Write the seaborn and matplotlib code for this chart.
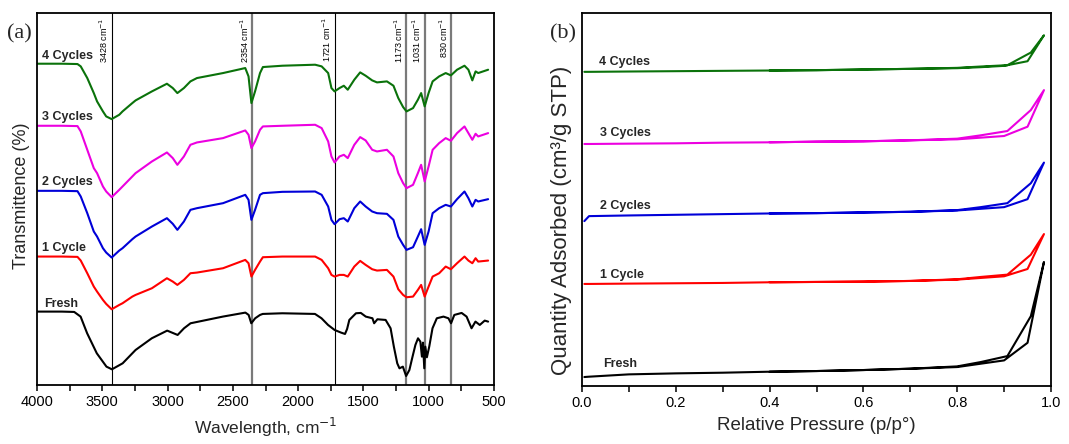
import numpy as np
import pandas as pd
import matplotlib
matplotlib.use("Agg")
import matplotlib.pyplot as plt
import seaborn as sns
from matplotlib.ticker import MultipleLocator

# ---------------- FTIR data (panel a) ----------------
wn_cycles = [4000, 3810, 3690, 3665, 3615, 3565, 3540, 3495, 3470, 3428,
             3370, 3345, 3270, 3245, 3120, 3005, 2960, 2925, 2875, 2825,
             2775, 2575, 2405, 2380, 2358, 2330, 2292, 2270, 2120, 1870,
             1820, 1770, 1745, 1721, 1683, 1650, 1620, 1570, 1525, 1483,
             1433, 1396, 1320, 1270, 1233, 1196, 1170, 1120, 1083, 1058,
             1031, 1001, 970, 920, 870, 830, 783, 726, 696, 666,
             641, 621, 545]

t_4cycles = [96.3, 96.3, 96.2, 95.5, 92.0, 87.5, 85.0, 82.0, 80.5, 79.7,
             81.0, 82.0, 84.5, 85.3, 88.0, 90.3, 89.0, 87.5, 89.0, 91.0,
             92.0, 93.5, 95.0, 92.5, 84.5, 88.0, 93.5, 95.3, 95.7, 96.0,
             95.5, 93.5, 89.0, 88.0, 89.0, 89.7, 88.5, 91.5, 93.7, 92.7,
             91.3, 90.7, 91.0, 89.7, 86.0, 83.3, 82.0, 83.0, 85.5, 87.5,
             83.5, 87.5, 91.0, 92.5, 93.5, 92.8, 94.5, 95.7, 94.5, 91.3,
             94.0, 93.5, 94.5]

t_3cycles = [77.7, 77.7, 77.6, 76.0, 70.5, 65.0, 63.5, 59.5, 58.0, 56.3,
             58.5, 59.5, 62.5, 63.5, 67.0, 69.7, 68.0, 66.0, 68.5, 72.0,
             72.7, 74.0, 76.3, 75.0, 71.0, 73.0, 76.5, 77.5, 77.7, 78.0,
             77.0, 73.0, 68.5, 66.7, 68.5, 69.0, 68.0, 72.0, 74.3, 73.3,
             70.5, 70.0, 70.5, 68.5, 63.5, 60.5, 59.0, 60.0, 63.5, 66.0,
             61.0, 65.5, 70.5, 72.5, 74.0, 73.2, 75.5, 77.5, 75.5, 73.5,
             75.3, 74.5, 75.5]

t_2cycles = [58.2, 58.2, 58.1, 56.5, 51.5, 46.0, 44.5, 41.0, 39.7, 38.2,
             40.3, 41.0, 43.7, 44.5, 47.5, 50.0, 48.3, 46.5, 49.0, 52.5,
             53.0, 54.5, 57.0, 55.5, 49.5, 52.5, 57.0, 57.5, 57.9, 58.0,
             57.0, 53.5, 49.5, 48.2, 49.7, 50.0, 49.0, 53.0, 55.0, 53.5,
             52.0, 51.5, 51.3, 49.5, 44.5, 42.0, 40.5, 41.3, 44.5, 46.7,
             42.0, 46.0, 51.5, 53.0, 54.0, 53.5, 55.7, 58.0, 56.0, 53.5,
             55.5, 55.0, 55.7]

t_1cycle = [38.5, 38.5, 38.4, 37.3, 33.5, 29.5, 28.0, 25.5, 24.3, 22.7,
            24.0, 24.5, 26.5, 27.0, 29.0, 32.0, 31.0, 30.0, 31.5, 33.5,
            33.7, 35.0, 37.5, 36.5, 32.5, 34.5, 37.0, 38.3, 38.5, 38.5,
            37.5, 35.0, 33.0, 32.5, 33.0, 33.0, 32.5, 35.5, 37.2, 36.0,
            34.7, 34.3, 34.5, 32.5, 28.7, 27.0, 26.3, 26.5, 28.5, 30.0,
            26.5, 29.5, 32.5, 33.5, 35.5, 34.7, 36.5, 38.5, 37.3, 36.5,
            38.0, 37.0, 37.3]

wn_fresh = [4000, 3810, 3715, 3666, 3616, 3542, 3468, 3426, 3344, 3245,
            3121, 3003, 2923, 2874, 2824, 2577, 2404, 2379, 2359, 2329,
            2292, 2271, 2121, 1871, 1821, 1771, 1721, 1671, 1641, 1625,
            1608, 1557, 1520, 1482, 1431, 1418, 1393, 1330, 1292, 1267,
            1241, 1224, 1198, 1173, 1148, 1127, 1102, 1082, 1064, 1052,
            1044, 1034, 1026, 1014, 996, 971, 938, 887, 849, 829,
            804, 748, 710, 672, 642, 609, 571, 545]

t_fresh = [22.0, 22.0, 21.9, 20.5, 15.5, 9.5, 5.5, 4.7, 6.5, 10.5,
           14.0, 16.3, 15.0, 17.0, 18.5, 20.5, 21.7, 21.0, 18.5, 20.0,
           21.0, 21.3, 21.5, 21.3, 20.0, 18.0, 16.5, 15.7, 15.3, 16.8,
           19.5, 21.5, 21.6, 20.5, 20.0, 18.5, 19.7, 19.5, 17.0, 11.5,
           6.5, 5.0, 5.5, 2.7, 4.5, 8.0, 12.0, 14.0, 13.0, 8.5,
           12.7, 5.0, 11.5, 8.3, 11.5, 17.0, 20.0, 20.5, 20.0, 18.5,
           21.0, 21.6, 20.5, 17.0, 19.0, 18.0, 19.3, 19.0]

peak_positions = [3428, 2354, 1721, 1173, 1031, 830]
peak_labels = ["3428 cm$^{-1}$", "2354 cm$^{-1}$", "1721 cm$^{-1}$",
               "1173 cm$^{-1}$", "1031 cm$^{-1}$", "830 cm$^{-1}$"]

# ---------------- N2 isotherm data (panel b) ----------------
p_ads = [0.005, 0.015, 0.1, 0.2, 0.3, 0.4, 0.5, 0.6, 0.7, 0.8, 0.85, 0.9, 0.95, 0.985]
p_des = [0.957, 0.907, 0.85, 0.8, 0.7, 0.6, 0.5, 0.4]

q_ads_4 = [94.5, 94.5, 94.6, 94.7, 94.8, 94.9, 95.0, 95.2, 95.4, 95.6, 95.9, 96.3, 97.7, 105.5]
q_des_4 = [100.3, 96.5, 96.1, 95.7, 95.4, 95.2, 95.0, 94.9]
q_ads_3 = [72.8, 72.8, 72.9, 73.0, 73.2, 73.3, 73.5, 73.6, 73.9, 74.2, 74.7, 75.2, 78.0, 89.0]
q_des_3 = [83.0, 76.7, 75.4, 74.4, 73.9, 73.6, 73.5, 73.3]
q_ads_2 = [49.6, 51.1, 51.3, 51.5, 51.7, 51.9, 52.0, 52.2, 52.4, 52.8, 53.3, 53.8, 56.2, 67.2]
q_des_2 = [61.0, 55.0, 53.8, 52.9, 52.4, 52.2, 52.0, 51.9]
q_ads_1 = [30.7, 30.7, 30.8, 30.9, 31.0, 31.2, 31.3, 31.4, 31.6, 32.0, 32.5, 33.0, 35.2, 45.7]
q_des_1 = [39.5, 33.5, 32.8, 32.1, 31.6, 31.4, 31.3, 31.2]
q_ads_f = [2.7, 2.8, 3.5, 3.8, 4.0, 4.3, 4.5, 4.8, 5.2, 5.7, 6.7, 7.7, 13.0, 37.3]
q_des_f = [21.0, 9.0, 7.2, 5.9, 5.2, 4.8, 4.5, 4.3]

samples = ["Fresh", "1 Cycle", "2 Cycles", "3 Cycles", "4 Cycles"]
colors = {"Fresh": "#000000", "1 Cycle": "#ff0000", "2 Cycles": "#0000d8",
          "3 Cycles": "#ec00e0", "4 Cycles": "#0a720a"}

# ---------------- build tables ----------------
ftir_series = {
    "Fresh": (wn_fresh, t_fresh),
    "1 Cycle": (wn_cycles, t_1cycle),
    "2 Cycles": (wn_cycles, t_2cycles),
    "3 Cycles": (wn_cycles, t_3cycles),
    "4 Cycles": (wn_cycles, t_4cycles),
}
ftir = pd.concat([pd.DataFrame({"wn": w, "T": t, "sample": s})
                  for s, (w, t) in ftir_series.items()], ignore_index=True)

iso_series = {
    "Fresh": (q_ads_f, q_des_f),
    "1 Cycle": (q_ads_1, q_des_1),
    "2 Cycles": (q_ads_2, q_des_2),
    "3 Cycles": (q_ads_3, q_des_3),
    "4 Cycles": (q_ads_4, q_des_4),
}
iso = pd.concat([pd.DataFrame({"p": list(p_ads) + list(p_des),
                               "Q": list(a) + list(d), "sample": s})
                 for s, (a, d) in iso_series.items()], ignore_index=True)

# ---------------- style ----------------
sns.set_theme(style="ticks")
plt.rcParams["font.family"] = ["Liberation Sans", "DejaVu Sans"]
plt.rcParams["axes.linewidth"] = 1.3
plt.rcParams["xtick.major.width"] = 1.1
plt.rcParams["xtick.minor.width"] = 1.1
plt.rcParams["xtick.major.size"] = 4
plt.rcParams["xtick.minor.size"] = 4
plt.rcParams["xtick.direction"] = "out"
plt.rcParams["xtick.color"] = "black"
plt.rcParams["axes.edgecolor"] = "black"

fig = plt.figure(figsize=(10.69, 4.44), dpi=100)
ax1 = fig.add_axes([37 / 1069, 1 - 385 / 444, (494 - 37) / 1069, (385 - 13) / 444])
ax2 = fig.add_axes([582 / 1069, 1 - 386 / 444, (1051 - 582) / 1069, (386 - 13) / 444])

# ---------------- panel a ----------------
sns.lineplot(data=ftir, x="wn", y="T", hue="sample", palette=colors,
             sort=False, estimator=None, legend=False, linewidth=1.5, ax=ax1)
ax1.set_xlim(4000, 500)
ax1.set_ylim(0, 111.5)
for w, lab in zip(peak_positions, peak_labels):
    thick = w in (2354, 1173, 1031, 830)
    ax1.axvline(w, color="#7a7a7a" if thick else "black",
                lw=1.6 if thick else 0.8, zorder=0.5)
    ax1.annotate(lab, xy=(w, 111.5), xytext=(-1, -3), textcoords="offset points",
                 rotation=90, ha="right", va="top", fontsize=6.5, color="black")

label_pos_a = {"4 Cycles": (3960, 98.7), "3 Cycles": (3960, 80.3),
               "2 Cycles": (3960, 60.8), "1 Cycle": (3960, 41.0),
               "Fresh": (3945, 24.2)}
for s, (x, y) in label_pos_a.items():
    ax1.text(x, y, s, fontsize=9, fontweight="bold", ha="left", va="center")

ax1.xaxis.set_major_locator(MultipleLocator(500))
ax1.xaxis.set_minor_locator(MultipleLocator(250))
ax1.set_yticks([])
ax1.tick_params(axis="x", labelsize=10.5, pad=3)
ax1.set_xlabel("Wavelength, cm$^{-1}$", fontsize=12.5, labelpad=5)
ax1.set_ylabel("Transmittence (%)", fontsize=13)
ax1.yaxis.set_label_coords(-0.015, 0.51)
for sp in ax1.spines.values():
    sp.set_visible(True)

# ---------------- panel b ----------------
sns.lineplot(data=iso, x="p", y="Q", hue="sample", palette=colors,
             sort=False, estimator=None, legend=False, linewidth=1.5, ax=ax2)
ax2.set_xlim(0, 1.0)
ax2.set_ylim(0, 112.2)
label_pos_b = {"4 Cycles": (0.036, 97.5), "3 Cycles": (0.038, 76.0),
               "2 Cycles": (0.038, 54.0), "1 Cycle": (0.038, 33.5),
               "Fresh": (0.044, 6.5)}
for s, (x, y) in label_pos_b.items():
    ax2.text(x, y, s, fontsize=9, fontweight="bold", ha="left", va="center")
ax2.xaxis.set_major_locator(MultipleLocator(0.2))
ax2.xaxis.set_minor_locator(MultipleLocator(0.1))
ax2.xaxis.set_major_formatter(matplotlib.ticker.FormatStrFormatter("%.1f"))
ax2.set_yticks([])
ax2.tick_params(axis="x", labelsize=10.5, pad=3)
ax2.set_xlabel("Relative Pressure (p/p°)", fontsize=13.5, labelpad=5)
ax2.set_ylabel("Quantity Adsorbed (cm³/g STP)", fontsize=16)
ax2.yaxis.set_label_coords(-0.021, 0.445)
for sp in ax2.spines.values():
    sp.set_visible(True)

fig.text(7 / 1069, 1 - 34 / 444, "(a)", family=["Liberation Serif", "DejaVu Serif"],
         fontsize=16, va="center", ha="left")
fig.text(550 / 1069, 1 - 34 / 444, "(b)", family=["Liberation Serif", "DejaVu Serif"],
         fontsize=16, va="center", ha="left")

fig.savefig("out.png", dpi=100)
